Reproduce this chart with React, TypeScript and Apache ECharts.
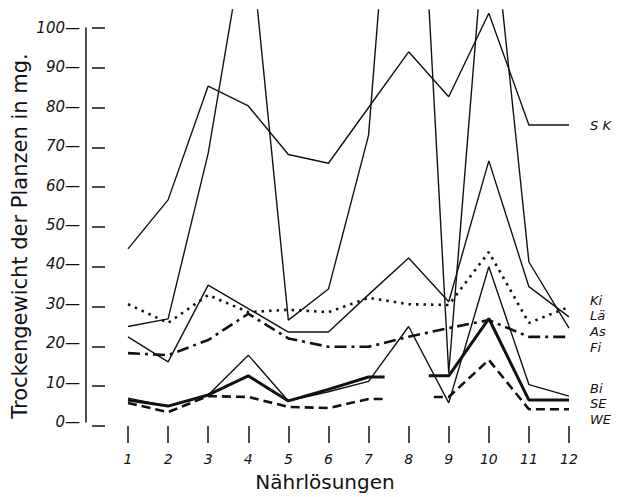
import React, { useEffect, useRef } from "react";
import * as echarts from "echarts";

// Nährlösungen 1..12
const solutions = [1, 2, 3, 4, 5, 6, 7, 8, 9, 10, 11, 12];

// Trockengewicht (mg) per series
const SK = [44.5, 56.8, 85.4, 80.4, 68.2, 66, 80, 94, 82.7, 103.7, 75.6, 75.6];
const Ki = [30.6, 25.9, 32.9, 28.6, 29.2, 28.6, 32.2, 30.6, 30.4, 43.7, 25.9, 29.9];
const La = [22.4, 16.1, 35.4, 29.5, 23.6, 23.6, 33, 42.2, 31.2, 66.6, 35, 27.4];
const As = [25, 26.9, 68.5, 128, 26.6, 34.4, 73, 200, 13.3, 138, 41.2, 24.6];
const Fi = [18.3, 17.8, 21.6, 28.2, 22, 19.9, 19.9, 22.4, 24.6, 26.6, 22.4, 22.4];
const Bi = [7, 5, 7.8, 17.8, 6.3, 8.6, 11.2, 25, 5.8, 40, 10.4, 7.5];
const SE = [6.5, 5, 7.8, 12.6, 6.3, 9.2, 12.3, null, 12.6, 27, 6.5, 6.5];
const WE = [5.8, 3.5, 7.5, 7.3, 4.8, 4.5, 6.8, null, 7.3, 16.6, 4.2, 4.2];

// short stubs drawn on both sides of the missing value at 8
const seStubX = [7.4, 8.5];
const weStubX = [7.38, 8.63];

// y ticks
const yTicks = [0, 10, 20, 30, 40, 50, 60, 70, 80, 90, 100];

// right-hand labels
const labelNames = ["S K", "Ki", "Lä", "As", "Fi", "Bi", "SE", "WE"];
const yTitle = "Trockengewicht der Planzen in mg.";
const xTitle = "Nährlösungen";

const FONT = "DejaVu Sans";
const INK = "#111";

function pairs(values: (number | null)[], stubs?: number[]) {
  const out: any[] = [];
  values.forEach((v, i) => {
    const x = solutions[i];
    if (v === null) {
      const prev = values[i - 1];
      const next = values[i + 1];
      if (stubs) out.push([stubs[0], prev]);
      out.push([x, "-"]);
      if (stubs) out.push([stubs[1], next]);
    } else {
      out.push([x, v]);
    }
  });
  return out;
}

function line(name: string, data: any[], style: any) {
  return {
    name,
    type: "line",
    xAxisIndex: 0,
    yAxisIndex: 0,
    data,
    symbol: "none",
    clip: true,
    connectNulls: false,
    lineStyle: { color: INK, ...style },
    z: 3,
  };
}

const labelY = [125, 300, 315, 331, 347, 388, 403, 419];

export default function App() {
  const ref = useRef<HTMLDivElement>(null);
  useEffect(() => {
    if (!ref.current) return;
    const chart = echarts.init(ref.current, undefined, { renderer: "svg" });
    const thin = { width: 1.4, type: "solid" };
    const option: any = {
      animation: false,
      backgroundColor: "#ffffff",
      textStyle: { fontFamily: FONT, color: INK },
      grid: [
        { left: 128, right: 51, top: 10, bottom: 71 },
        { left: 86, right: 56, top: 28, bottom: 71 },
        { left: 92, right: 56, top: 28, bottom: 71 },
      ],
      xAxis: [
        {
          gridIndex: 0,
          type: "value",
          min: 1,
          max: 12,
          interval: 1,
          axisLine: { show: false },
          axisTick: { show: true, length: 17, lineStyle: { color: INK, width: 1.5 } },
          axisLabel: {
            margin: 26,
            color: INK,
            fontStyle: "italic",
            fontSize: 14,
            fontFamily: FONT,
          },
          splitLine: { show: false },
        },
        {
          gridIndex: 1,
          type: "value",
          min: 0,
          max: 1,
          axisLine: { show: false },
          axisTick: { show: false },
          axisLabel: { show: false },
          splitLine: { show: false },
          name: xTitle,
          nameLocation: "middle",
          nameGap: 50,
          nameTextStyle: { fontSize: 20, color: INK, fontFamily: FONT },
        },
        { gridIndex: 2, type: "value", show: false },
      ],
      yAxis: [
        { gridIndex: 0, type: "value", min: 0, max: 104.5, show: false },
        {
          gridIndex: 1,
          type: "value",
          min: 0,
          max: 100,
          interval: 10,
          axisLine: { show: true, lineStyle: { color: INK, width: 1.5 } },
          axisTick: { show: false },
          axisLabel: {
            margin: 6,
            color: INK,
            fontStyle: "italic",
            fontSize: 15,
            fontFamily: FONT,
            formatter: (v: number) => (yTicks.includes(v) ? `${v}—` : ""),
          },
          splitLine: { show: false },
        },
        {
          gridIndex: 2,
          type: "value",
          min: 0,
          max: 100,
          interval: 10,
          axisLine: { show: false },
          axisTick: { show: true, inside: true, length: 13, lineStyle: { color: INK, width: 1.5 } },
          axisLabel: { show: false },
          splitLine: { show: false },
        },
      ],
      series: [
        line("SK", pairs(SK), thin),
        line("Ki", pairs(Ki), { width: 2.6, type: [2.5, 5] }),
        line("Lä", pairs(La), thin),
        line("As", pairs(As), thin),
        line("Fi", pairs(Fi), { width: 2.6, type: [12, 5, 3, 5] }),
        line("Bi", pairs(Bi), thin),
        line("SE", pairs(SE, seStubX), { width: 3 }),
        line("WE", pairs(WE, weStubX), { width: 2.6, type: [9, 5] }),
      ],
      graphic: [
        ...labelNames.map((t, i) => ({
          type: "text",
          x: 590,
          y: labelY[i],
          style: {
            text: t,
            fill: INK,
            font: `italic 13px "${FONT}"`,
            lineHeight: 13,
            verticalAlign: "middle",
          },
        })),
        {
          type: "text",
          x: 20,
          y: 236,
          rotation: Math.PI / 2,
          style: {
            text: yTitle,
            fill: INK,
            font: `21px "${FONT}"`,
            align: "center",
            verticalAlign: "middle",
          },
        },
      ],
    };
    chart.setOption(option);
    return () => chart.dispose();
  }, []);
  return (
    <div
      ref={ref}
      style={{ position: "absolute", left: 0, top: 0, width: 620, height: 497, background: "#fff" }}
    />
  );
}
